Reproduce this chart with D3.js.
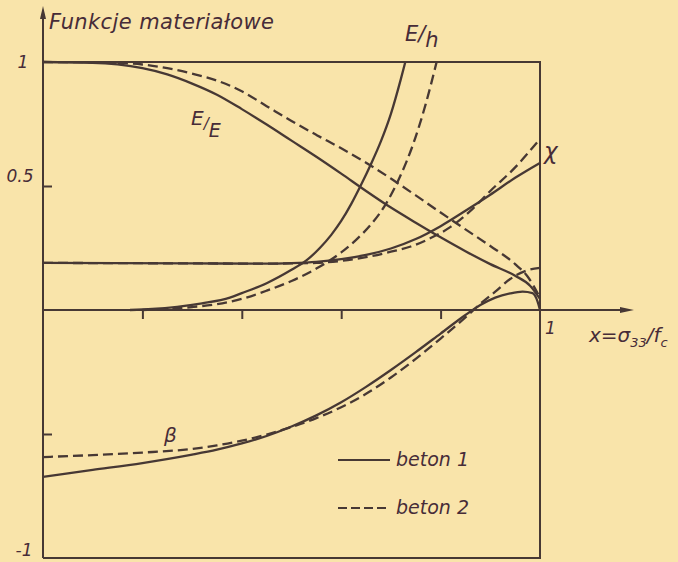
<!DOCTYPE html>
<html>
<head>
<meta charset="utf-8">
<script src="https://cdn.jsdelivr.net/npm/d3@7"></script>
<style>
  html, body { margin: 0; padding: 0; background: #f9e4aa; }
  svg { display: block; }
  text { font-family: "DejaVu Sans", sans-serif; font-style: italic; fill: #472c38; }
</style>
</head>
<body>
<svg id="chart" width="678" height="562"></svg>
<script>
// Material functions versus relative stress x = σ33 / fc, for two concretes
// (beton 1 = solid, beton 2 = dashed).

// E_t / E  (tangent stiffness ratio)
const etE1X = [0, 0.1, 0.15, 0.2, 0.25, 0.3, 0.35, 0.4, 0.45, 0.5, 0.55, 0.6, 0.65, 0.7, 0.75, 0.8, 0.85, 0.9, 0.95, 0.98, 1.0];
const etE1Y = [1, 0.997, 0.99, 0.975, 0.95, 0.913, 0.868, 0.81, 0.748, 0.683, 0.618, 0.55, 0.48, 0.413, 0.352, 0.293, 0.237, 0.185, 0.138, 0.098, 0.045];
const etE2X = [0, 0.1, 0.2, 0.25, 0.3, 0.35, 0.4, 0.45, 0.5, 0.55, 0.6, 0.65, 0.7, 0.75, 0.8, 0.85, 0.9, 0.95, 0.975, 1.0];
const etE2Y = [1, 0.999, 0.99, 0.975, 0.953, 0.925, 0.882, 0.822, 0.762, 0.706, 0.652, 0.594, 0.53, 0.462, 0.393, 0.325, 0.258, 0.185, 0.135, 0.05];

// E / h
const eh1X = [0.175, 0.22, 0.27, 0.32, 0.376, 0.4, 0.45, 0.5, 0.53, 0.557, 0.58, 0.6, 0.62, 0.64, 0.66, 0.68, 0.7, 0.72, 0.729];
const eh1Y = [0, 0.004, 0.013, 0.027, 0.05, 0.068, 0.108, 0.162, 0.2, 0.25, 0.303, 0.359, 0.427, 0.505, 0.589, 0.681, 0.791, 0.931, 1.0];
const eh2X = [0.2, 0.25, 0.3, 0.35, 0.4, 0.45, 0.5, 0.55, 0.6, 0.63, 0.66, 0.69, 0.72, 0.745, 0.77, 0.792];
const eh2Y = [0, 0.004, 0.012, 0.024, 0.045, 0.078, 0.117, 0.167, 0.232, 0.283, 0.345, 0.428, 0.545, 0.67, 0.83, 1.0];

// χ
const chi1X = [0, 0.3, 0.45, 0.5, 0.55, 0.6, 0.65, 0.7, 0.75, 0.8, 0.85, 0.9, 0.95, 1.0];
const chi1Y = [0.19, 0.188, 0.187, 0.189, 0.194, 0.205, 0.222, 0.248, 0.286, 0.338, 0.4, 0.465, 0.533, 0.593];
const chi2X = [0, 0.3, 0.45, 0.5, 0.55, 0.6, 0.65, 0.7, 0.74, 0.78, 0.82, 0.86, 0.9, 0.95, 1.0];
const chi2Y = [0.19, 0.188, 0.187, 0.188, 0.19, 0.198, 0.213, 0.235, 0.256, 0.29, 0.335, 0.4, 0.48, 0.575, 0.69];

// β
const beta1X = [0, 0.1, 0.2, 0.3, 0.35, 0.4, 0.45, 0.5, 0.55, 0.6, 0.65, 0.7, 0.75, 0.8, 0.85, 0.88, 0.91, 0.94, 0.965, 0.985, 0.995, 1.0];
const beta1Y = [-0.673, -0.645, -0.617, -0.583, -0.563, -0.538, -0.508, -0.47, -0.425, -0.372, -0.31, -0.242, -0.17, -0.095, -0.02, 0.02, 0.05, 0.067, 0.074, 0.068, 0.035, 0];
const beta2X = [0, 0.1, 0.2, 0.3, 0.35, 0.4, 0.45, 0.5, 0.55, 0.6, 0.65, 0.7, 0.75, 0.8, 0.85, 0.88, 0.91, 0.94, 0.97, 1.0];
const beta2Y = [-0.593, -0.585, -0.575, -0.56, -0.546, -0.527, -0.502, -0.472, -0.436, -0.392, -0.338, -0.272, -0.197, -0.115, -0.03, 0.025, 0.074, 0.125, 0.157, 0.17];

// Axis ticks and labels
const xTickValues = [0.2, 0.4, 0.6, 0.8];
const yTickValues = [0.5, -0.5];
const yTickLabels = [{ v: 1, t: "1", cx: 23, dy: 6 }, { v: 0.5, t: "0.5", cx: 20, dy: -4 }, { v: -1, t: "-1", cx: 24, dy: -2 }];
const legendItems = ["beton 1", "beton 2"];

const ink = "#473834";
const svg = d3.select("#chart");

const x = d3.scaleLinear().domain([0, 1]).range([43, 540]);
const y = d3.scaleLinear().domain([-1, 1]).range([558, 62]);

const zip = (xs, ys) => xs.map((d, i) => [d, ys[i]]);
const line = d3.line().x(d => x(d[0])).y(d => y(d[1])).curve(d3.curveMonotoneX);

// Frame: top, right and bottom edges of the plot box
svg.append("path")
  .attr("d", `M${x(0)},${y(1)}H${x(1)}V${y(-1)}H${x(0)}`)
  .attr("fill", "none").attr("stroke", ink).attr("stroke-width", 2);

// Y axis with arrow
svg.append("line")
  .attr("x1", x(0)).attr("x2", x(0)).attr("y1", y(-1)).attr("y2", 14)
  .attr("stroke", ink).attr("stroke-width", 2);
svg.append("path")
  .attr("d", `M${x(0)},6L${x(0) - 3},19L${x(0) + 3},19Z`).attr("fill", ink);

// X axis with arrow
svg.append("line")
  .attr("x1", x(0)).attr("x2", 625).attr("y1", y(0)).attr("y2", y(0))
  .attr("stroke", ink).attr("stroke-width", 2);
svg.append("path")
  .attr("d", `M634,${y(0)}L620,${y(0) - 3}L620,${y(0) + 3}Z`).attr("fill", ink);

// Tick marks
const xAxis = svg.append("g").attr("transform", `translate(0,${y(0)})`)
  .call(d3.axisBottom(x).tickValues(xTickValues).tickSize(9).tickFormat(""));
const yAxis = svg.append("g").attr("transform", `translate(${x(0)},0)`)
  .call(d3.axisRight(y).tickValues(yTickValues).tickSize(9).tickFormat(""));
[xAxis, yAxis].forEach(g => {
  g.select(".domain").remove();
  g.selectAll(".tick line").attr("stroke", ink).attr("stroke-width", 2);
});

// Y tick labels
svg.selectAll(".ylab").data(yTickLabels).enter().append("text")
  .attr("class", "ylab")
  .attr("x", d => d.cx).attr("y", d => y(d.v) + d.dy)
  .attr("text-anchor", "middle").attr("font-size", 17)
  .text(d => d.t);

// X end label and axis title
svg.append("text").attr("x", 545).attr("y", 334).attr("font-size", 17).text("1");
const xt = svg.append("text").attr("x", 589).attr("y", 342).attr("font-size", 20);
xt.append("tspan").text("x=σ");
xt.append("tspan").attr("font-size", 13).attr("dy", 5).text("33");
xt.append("tspan").attr("dy", -5).text("/f");
xt.append("tspan").attr("font-size", 13).attr("dy", 5).text("c");

// Y axis title
svg.append("text").attr("x", 49).attr("y", 29).attr("font-size", 21)
  .attr("letter-spacing", 0.4).text("Funkcje materiałowe");

// Curves
const curves = [
  [etE1X, etE1Y, false], [etE2X, etE2Y, true],
  [eh1X, eh1Y, false], [eh2X, eh2Y, true],
  [chi1X, chi1Y, false], [chi2X, chi2Y, true],
  [beta1X, beta1Y, false], [beta2X, beta2Y, true]
];
svg.append("g").selectAll("path").data(curves).enter().append("path")
  .attr("d", d => line(zip(d[0], d[1])))
  .attr("fill", "none").attr("stroke", ink).attr("stroke-width", 2.3)
  .attr("stroke-dasharray", d => d[2] ? "10,5" : null);

// Curve labels
const lEtE = svg.append("text").attr("x", 191).attr("y", 125).attr("font-size", 20);
lEtE.append("tspan").text("E");
lEtE.append("tspan").attr("font-size", 15).attr("dy", 4).text("/");
lEtE.append("tspan").attr("font-size", 19).attr("dy", 8).text("E");

const lEh = svg.append("text").attr("x", 405).attr("y", 41).attr("font-size", 21);
lEh.append("tspan").text("E");
lEh.append("tspan").text("/");
lEh.append("tspan").attr("dy", 6).text("h");

svg.append("text").attr("x", 544).attr("y", 159).attr("font-size", 23).text("χ");
svg.append("text").attr("x", 164).attr("y", 442).attr("font-size", 20).text("β");

// Legend
const lg = svg.selectAll(".lg").data(legendItems).enter().append("g")
  .attr("class", "lg")
  .attr("transform", (d, i) => `translate(338,${460 + i * 48})`);
lg.append("line").attr("x1", 0).attr("x2", 52).attr("y1", 0).attr("y2", 0)
  .attr("stroke", ink).attr("stroke-width", 2.2)
  .attr("stroke-dasharray", (d, i) => i ? "9,4" : null);
lg.append("text").attr("x", 58).attr("y", 6).attr("font-size", 19).text(d => d);
</script>
</body>
</html>
